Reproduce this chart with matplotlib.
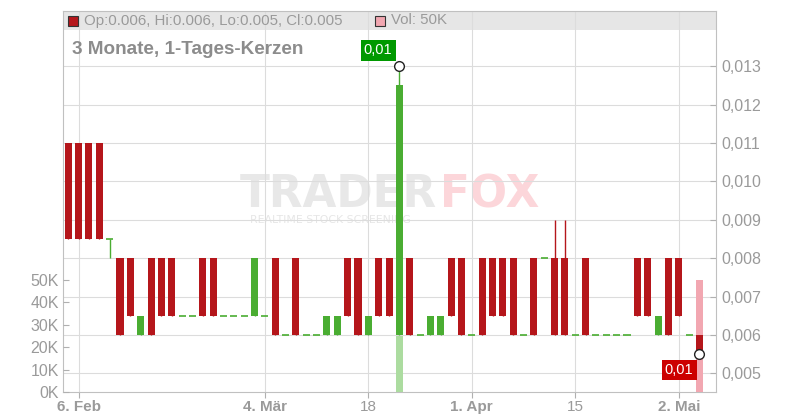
import matplotlib
matplotlib.use("Agg")
import matplotlib.pyplot as plt
from matplotlib.patches import Rectangle
import numpy as np

# daily candles, 5 Feb - 3 May (trading-day index)
opens = [0.011, 0.011, 0.011, 0.011, 0.0085, 0.008, 0.008, 0.006, 0.008, 0.008,
         0.008, 0.0065, 0.0065, 0.008, 0.008, 0.0065, 0.0065, 0.0065, 0.0065, 0.0065,
         0.008, 0.006, 0.008, 0.006, 0.006, 0.006, 0.006, 0.008, 0.008, 0.006,
         0.008, 0.008, 0.006, 0.008, 0.006, 0.006, 0.006, 0.008, 0.008, 0.006,
         0.008, 0.008, 0.008, 0.008, 0.006, 0.008, 0.008, 0.008, 0.008, 0.006,
         0.008, 0.006, 0.006, 0.006, 0.006, 0.008, 0.008, 0.006, 0.008, 0.008,
         0.006, 0.006]
closes = [0.0085, 0.0085, 0.0085, 0.0085, 0.0085, 0.006, 0.0065, 0.0065, 0.006, 0.0065,
          0.0065, 0.0065, 0.0065, 0.0065, 0.0065, 0.0065, 0.0065, 0.0065, 0.008, 0.0065,
          0.006, 0.006, 0.006, 0.006, 0.006, 0.0065, 0.0065, 0.0065, 0.006, 0.0065,
          0.0065, 0.0065, 0.0125, 0.006, 0.006, 0.0065, 0.0065, 0.0065, 0.006, 0.006,
          0.006, 0.0065, 0.0065, 0.006, 0.006, 0.006, 0.008, 0.006, 0.006, 0.006,
          0.006, 0.006, 0.006, 0.006, 0.006, 0.0065, 0.0065, 0.0065, 0.006, 0.0065,
          0.006, 0.0055]
highs = [0.011, 0.011, 0.011, 0.011, 0.0085, 0.008, 0.008, 0.0065, 0.008, 0.008,
         0.008, 0.0065, 0.0065, 0.008, 0.008, 0.0065, 0.0065, 0.0065, 0.008, 0.0065,
         0.008, 0.006, 0.008, 0.006, 0.006, 0.0065, 0.0065, 0.008, 0.008, 0.0065,
         0.008, 0.008, 0.013, 0.008, 0.006, 0.0065, 0.0065, 0.008, 0.008, 0.006,
         0.008, 0.008, 0.008, 0.008, 0.006, 0.008, 0.008, 0.009, 0.009, 0.006,
         0.008, 0.006, 0.006, 0.006, 0.006, 0.008, 0.008, 0.0065, 0.008, 0.008,
         0.006, 0.006]
lows = [0.0085, 0.0085, 0.0085, 0.0085, 0.008, 0.006, 0.0065, 0.006, 0.006, 0.0065,
        0.0065, 0.0065, 0.0065, 0.0065, 0.0065, 0.0065, 0.0065, 0.0065, 0.0065, 0.0065,
        0.006, 0.006, 0.006, 0.006, 0.006, 0.006, 0.006, 0.0065, 0.006, 0.006,
        0.0065, 0.0065, 0.006, 0.006, 0.006, 0.006, 0.006, 0.0065, 0.006, 0.006,
        0.006, 0.0065, 0.0065, 0.006, 0.006, 0.006, 0.008, 0.006, 0.006, 0.006,
        0.006, 0.006, 0.006, 0.006, 0.006, 0.0065, 0.0065, 0.006, 0.006, 0.0065,
        0.006, 0.0055]
volumes = [0] * 62
volumes[32] = 25000
volumes[61] = 50000

date_ticks = [1, 19, 29, 39, 49, 59]
date_labels = ["6. Feb", "4. Mär", "18", "1. Apr", "15", "2. Mai"]
price_ticks = [0.005, 0.006, 0.007, 0.008, 0.009, 0.010, 0.011, 0.012, 0.013]
vol_ticks = [0, 10000, 20000, 30000, 40000, 50000]

RED = "#b5161b"
GREEN = "#4aad32"
VOL_UP = "#acdca0"
VOL_DN = "#f2a7b1"
GRID = "#dcdcdc"
TXT = "#9a9a9a"

plt.rcParams["font.family"] = ["Liberation Sans", "DejaVu Sans"]

fig = plt.figure(figsize=(8, 4.2), dpi=100)
rect = [63 / 800, 28 / 420, 653 / 800, 381 / 420]
ax = fig.add_axes(rect)        # grid, band, price labels
axv = ax.twinx()               # volume
axc = ax.twinx()               # candles
ax.yaxis.tick_right()
axv.yaxis.tick_left()

x = np.arange(len(opens))
o = np.array(opens)
c = np.array(closes)
up = c >= o
ylo, yhi = 0.004513, 0.014441

for a in (ax, axc):
    a.set_ylim(ylo, yhi)
ax.set_xlim(-0.51, 62.6)
axv.set_ylim(0, 170000)

# header band + watermark
ax.add_patch(Rectangle((0, 1 - 19 / 381), 1, 19 / 381, transform=ax.transAxes,
                       fc="#e6e6e6", ec="none", zorder=0.2))
ax.text(240 / 800, (420 - 207) / 420, "TRADER", transform=fig.transFigure,
        family="DejaVu Sans", fontweight="heavy", fontsize=31.5, color="#e8e8e8",
        va="baseline", zorder=0.3)
ax.text(440 / 800, (420 - 207) / 420, "FOX", transform=fig.transFigure,
        family="DejaVu Sans", fontweight="heavy", fontsize=31.5, color="#fcd6da",
        va="baseline", zorder=0.3)
ax.text(250 / 800, (420 - 223) / 420, "REALTIME STOCK SCREENING", transform=fig.transFigure,
        family="DejaVu Sans", fontsize=7.8, color="#e6e6e6", va="baseline", zorder=0.3)

ax.grid(axis="y", color=GRID, lw=0.8, zorder=0.4)
ax.set_axisbelow(True)
for xt in date_ticks:
    ax.axvline(xt, color=GRID, lw=0.8, zorder=0.4)

# volume
axv.bar(x, volumes, width=0.68, color=np.where(up, VOL_UP, VOL_DN))

# candles
cols = np.where(up, GREEN, RED)
w = 0.68
axc.vlines(x, lows, highs, colors=cols, lw=1)
body = c != o
axc.bar(x[body], np.abs(c - o)[body], bottom=np.minimum(o, c)[body], width=w,
        color=cols[body])
flat = ~body
axc.hlines(c[flat], x[flat] - w / 2, x[flat] + w / 2, colors=cols[flat], lw=1.2)

# markers at extreme and last price
axc.plot([32], [highs[32]], "o", ms=7, mfc="white", mec="#222222", mew=1, zorder=5)
axc.plot([61], [closes[61]], "o", ms=7, mfc="white", mec="#222222", mew=1, zorder=5)
axc.annotate("0,01", xy=(32, highs[32]), xytext=(-7, 9), textcoords="offset pixels",
             ha="right", va="bottom", color="white", fontsize=10.5,
             bbox=dict(boxstyle="square,pad=0.22", fc="#009900", ec="none"), zorder=6)
axc.annotate("0,01", xy=(61, closes[61]), xytext=(-6, -9), textcoords="offset pixels",
             ha="right", va="top", color="white", fontsize=10.5,
             bbox=dict(boxstyle="square,pad=0.22", fc="#cc0000", ec="none"), zorder=6)

# axes styling
for a in (axv, axc):
    for s in a.spines.values():
        s.set_visible(False)
for s in ax.spines.values():
    s.set_color("#c0c0c0")
axc.yaxis.set_visible(False)

ax.set_yticks(price_ticks)
ax.set_yticklabels([f"{p:.3f}".replace(".", ",") for p in price_ticks])
ax.tick_params(axis="y", direction="in", length=4, width=0.8, color="#b0b0b0",
               labelsize=11.5, labelcolor=TXT, pad=4)
axv.set_yticks(vol_ticks)
axv.set_yticklabels([f"{v // 1000}K" for v in vol_ticks])
axv.tick_params(axis="y", direction="in", length=4, width=0.8, color="#b0b0b0",
                labelsize=11.5, labelcolor=TXT, pad=3)

ax.set_xticks(date_ticks)
ax.set_xticklabels(date_labels)
ax.tick_params(axis="x", direction="out", length=4, width=0.8, color="#b0b0b0",
               labelsize=11, labelcolor=TXT, pad=2)
for lab in ax.get_xticklabels():
    lab.set_family(["Liberation Sans Narrow", "Liberation Sans"])
    if not lab.get_text().isdigit():
        lab.set_fontweight("bold")

# header legend and title
fig.add_artist(Rectangle((68 / 800, 1 - 26 / 420), 10 / 800, 10 / 420,
                         transform=fig.transFigure, fc=RED, ec="#333333", lw=0.8))
fig.text(84 / 800, 1 - 20.5 / 420, "Op:0.006, Hi:0.006, Lo:0.005, Cl:0.005",
         fontsize=10.8, color=TXT, va="center")
fig.add_artist(Rectangle((375 / 800, 1 - 26 / 420), 10 / 800, 10 / 420,
                         transform=fig.transFigure, fc=VOL_DN, ec="#333333", lw=0.8))
fig.text(391 / 800, 1 - 20.5 / 420, "Vol: 50K", fontsize=10.8, color=TXT, va="center")
fig.text(72 / 800, 1 - 54 / 420, "3 Monate, 1-Tages-Kerzen", fontsize=13.6,
         fontweight="bold", color="#8c8c8c", va="baseline")

fig.savefig("out.png", dpi=100)
